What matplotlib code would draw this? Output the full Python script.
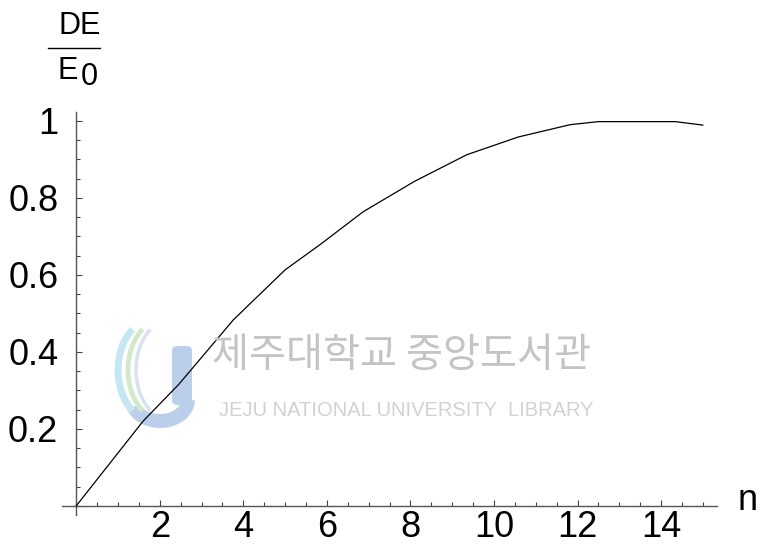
import matplotlib
matplotlib.use("Agg")
import matplotlib.pyplot as plt
from matplotlib.ticker import MultipleLocator, FixedLocator
from matplotlib.lines import Line2D
from matplotlib.patches import FancyBboxPatch, Arc

# relative energy vs n
n_vals = [0.0, 1.6, 2.45, 3.76, 5.0, 5.83, 6.87, 8.1, 9.35, 10.58, 11.82, 12.5, 14.34, 15.0]
de_vals = [0.0, 0.22, 0.315, 0.483, 0.613, 0.678, 0.764, 0.843, 0.912, 0.958, 0.99, 0.998, 0.998, 0.989]
x_ticks = [2, 4, 6, 8, 10, 12, 14]
y_ticks = [0.2, 0.4, 0.6, 0.8, 1.0]
y_tick_labels = ["0.2", "0.4", "0.6", "0.8", "1"]

W, H = 764, 553
fig = plt.figure(figsize=(W / 100, H / 100), dpi=100)
fig.patch.set_facecolor("white")

def fx(px):
    return px / W

def fy(py):
    return 1 - py / H

FONT = "Liberation Sans"

# library watermark behind the plot
wm_col = "#c4c4c4"
fig.text(fx(401), fy(356), "제주대학교 중앙도서관", family=["Noto Sans CJK KR", "DejaVu Sans"],
         fontsize=29, color=wm_col, ha="center", va="center", zorder=0)
fig.text(fx(406), fy(410), "JEJU NATIONAL UNIVERSITY  LIBRARY", family=FONT,
         fontsize=14.5, color="#d2d2d2", ha="center", va="center", zorder=0)
# logo: J bar and swooshes
j_col = "#bccfea"
j_bar = FancyBboxPatch((fx(172), fy(405)), fx(20), fy(346) - fy(405),
                       boxstyle="round,pad=0,rounding_size=0.008",
                       transform=fig.transFigure, facecolor=j_col, edgecolor="none", zorder=0)
fig.add_artist(j_bar)
j_hook = Arc((fx(160), fy(400)), fx(56), (fy(380) - fy(422)), theta1=200, theta2=360,
             transform=fig.transFigure, color=j_col, lw=10, zorder=0)
fig.add_artist(j_hook)
for cx, col, lw in [(128, "#c6e6f3", 5), (138, "#d4e9cb", 3.5), (146, "#d8e2f0", 2.5)]:
    arc = Arc((fx(cx + 25), fy(370)), fx(70), fy(320) - fy(420), theta1=110, theta2=250,
              transform=fig.transFigure, color=col, lw=lw, zorder=0)
    fig.add_artist(arc)

ax = fig.add_axes([fx(61.7), fy(515), fx(717) - fx(61.7), fy(112) - fy(515)])
ax.patch.set_alpha(0)
ax.set_xlim(-0.35, 15.34)
ax.set_ylim(-0.024, 1.023)

ax.plot(n_vals, de_vals, color="black", lw=0.9, zorder=3)

for side in ["top", "right"]:
    ax.spines[side].set_visible(False)
for side in ["left", "bottom"]:
    ax.spines[side].set_position(("data", 0))
    ax.spines[side].set_color("#555555")
    ax.spines[side].set_linewidth(1.0)

ax.xaxis.set_major_locator(FixedLocator(x_ticks))
ax.xaxis.set_minor_locator(MultipleLocator(0.5))
ax.yaxis.set_major_locator(FixedLocator(y_ticks))
ax.yaxis.set_minor_locator(MultipleLocator(0.05))
ax.set_xticklabels([str(v) for v in x_ticks])
ax.set_yticklabels(y_tick_labels)

ax.tick_params(axis="both", which="both", direction="in", color="#444444", width=0.8)
ax.tick_params(axis="both", which="major", length=4)
ax.tick_params(axis="both", which="minor", length=3)
ax.tick_params(axis="x", which="major", pad=3, labelsize=26)
ax.tick_params(axis="y", which="major", pad=13, labelsize=26)
for lab in ax.get_xticklabels() + ax.get_yticklabels():
    lab.set_family(FONT)

# axis labels
fig.text(fx(748), fy(500), "n", family=FONT, fontsize=26, ha="center", va="center")
fig.text(fx(80), fy(26), "DE", family=FONT, fontsize=22, ha="center", va="center")
fig.add_artist(Line2D([fx(48), fx(100)], [fy(48), fy(48)], transform=fig.transFigure,
                      color="black", lw=1.0))
fig.text(fx(68), fy(71), "E", family=FONT, fontsize=22, ha="center", va="center")
fig.text(fx(89), fy(77), "0", family=FONT, fontsize=22, ha="center", va="center")

fig.savefig("out.png", dpi=100, facecolor="white")
